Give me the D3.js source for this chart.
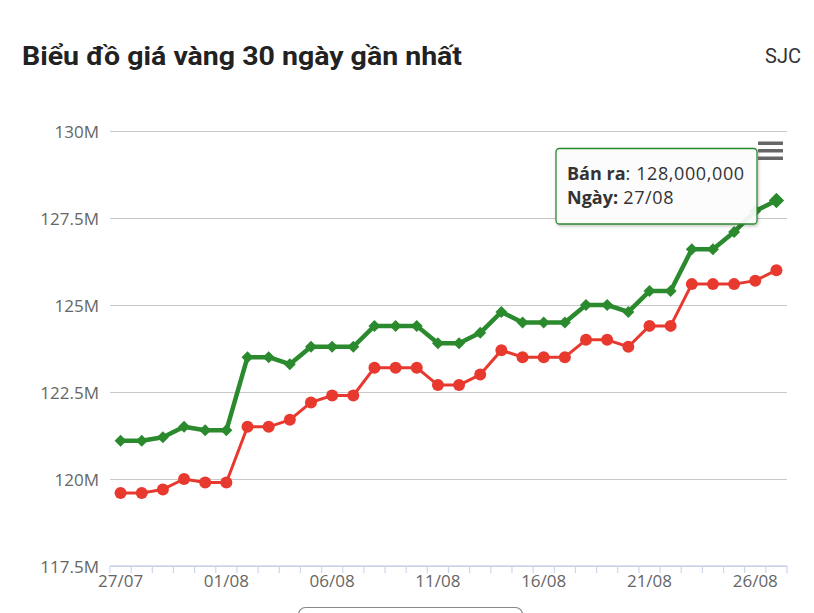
<!DOCTYPE html>
<html>
<head>
<meta charset="utf-8">
<script src="https://cdn.jsdelivr.net/npm/d3@7"></script>
<style>
  html, body { margin: 0; padding: 0; background: #fff; }
  svg { display: block; }
</style>
</head>
<body>
<div id="chart"></div>
<script>
// ---- Data ----
const dates = ["27/07","28/07","29/07","30/07","31/07","01/08","02/08","03/08","04/08","05/08",
  "06/08","07/08","08/08","09/08","10/08","11/08","12/08","13/08","14/08","15/08",
  "16/08","17/08","18/08","19/08","20/08","21/08","22/08","23/08","24/08","25/08","26/08","27/08"];
// Bán ra (sell), million VND
const banRa = [121.1,121.1,121.2,121.5,121.4,121.4,123.5,123.5,123.3,123.8,
  123.8,123.8,124.4,124.4,124.4,123.9,123.9,124.2,124.8,124.5,
  124.5,124.5,125.0,125.0,124.8,125.4,125.4,126.6,126.6,127.1,127.7,128.0];
// Mua vào (buy), million VND
const muaVao = [119.6,119.6,119.7,120.0,119.9,119.9,121.5,121.5,121.7,122.2,
  122.4,122.4,123.2,123.2,123.2,122.7,122.7,123.0,123.7,123.5,
  123.5,123.5,124.0,124.0,123.8,124.4,124.4,125.6,125.6,125.6,125.7,126.0];
const yTicks = [117.5, 120, 122.5, 125, 127.5, 130];
const xLabelDates = ["27/07","01/08","06/08","11/08","16/08","21/08","26/08"];
const titleText = "Biểu đồ giá vàng 30 ngày gần nhất";
const brandText = "SJC";
const tipIndex = 31;

// ---- Setup ----
const W = 814, H = 613;
const GREEN = "#2b8a2e", RED = "#e8392f";
const svg = d3.select("#chart").append("svg").attr("width", W).attr("height", H);

const defs = svg.append("defs");
const f = defs.append("filter").attr("id","shadow").attr("x","-10%").attr("y","-10%").attr("width","130%").attr("height","140%");
f.append("feDropShadow").attr("dx",1).attr("dy",1.5).attr("stdDeviation",1.5).attr("flood-color","#000").attr("flood-opacity",0.25);

// Title
svg.append("text").attr("x", 22).attr("y", 65)
  .attr("font-family", "Roboto, sans-serif").attr("font-weight", 700)
  .attr("font-size", 26).attr("fill", "#222")
  .attr("textLength", 440).attr("lengthAdjust", "spacingAndGlyphs")
  .text(titleText);
svg.append("text").attr("x", 801).attr("y", 63.3).attr("text-anchor", "end")
  .attr("font-family", "Roboto, sans-serif").attr("font-size", 20).attr("fill", "#333")
  .text(brandText);

// Scales
const x = d3.scaleBand().domain(dates).range([110, 787]).padding(0);
const y = d3.scaleLinear().domain([117.5, 130]).range([566, 131]);
const cx = d => x(d) + x.bandwidth() / 2;

// Y gridlines + labels
const yAxis = d3.axisLeft(y).tickValues(yTicks).tickSize(-(787 - 110)).tickPadding(11)
  .tickFormat(v => d3.format("")(v) + "M");
const gy = svg.append("g").attr("transform", "translate(110,0)").call(yAxis);
gy.select(".domain").remove();
gy.selectAll(".tick line").attr("stroke", "#c8c8c8").attr("stroke-width", 1.2);
gy.selectAll(".tick text").attr("font-family", "'Open Sans', sans-serif").attr("font-size", 17)
  .attr("fill", "#666").attr("dy", "0.36em");

// X axis
const xAxis = d3.axisBottom(x).tickSize(0).tickPadding(0)
  .tickValues(xLabelDates);
const gx = svg.append("g").attr("transform", "translate(0,566)").call(xAxis);
gx.select(".domain").attr("stroke", "#ccd6eb").attr("stroke-width", 1.5)
  .attr("d", "M110,0H787");
gx.selectAll(".tick text").attr("font-family", "'Open Sans', sans-serif").attr("font-size", 17)
  .attr("fill", "#666").attr("dy", null).attr("y", 21);
// category boundary tick marks
svg.append("g").selectAll("line").data(dates.concat(["__end"])).join("line")
  .attr("x1", (d, i) => i < dates.length ? x(d) : x.range()[1])
  .attr("x2", (d, i) => i < dates.length ? x(d) : x.range()[1])
  .attr("y1", 566).attr("y2", 573)
  .attr("stroke", "#ccd6eb").attr("stroke-width", 1.2);

// Lines
const lineGen = arr => d3.line().x((d, i) => cx(dates[i])).y(d => y(d))(arr);

svg.append("path").attr("d", lineGen(muaVao)).attr("fill", "none")
  .attr("stroke", RED).attr("stroke-width", 3).attr("stroke-linejoin", "round");
svg.append("g").selectAll("circle").data(muaVao).join("circle")
  .attr("cx", (d, i) => cx(dates[i])).attr("cy", d => y(d)).attr("r", 6)
  .attr("fill", RED);

svg.append("path").attr("d", lineGen(banRa)).attr("fill", "none")
  .attr("stroke", GREEN).attr("stroke-width", 4.5).attr("stroke-linejoin", "round");
const diamond = (s) => `M0,${-s}L${s},0L0,${s}L${-s},0Z`;
svg.append("g").selectAll("path").data(banRa).join("path")
  .attr("transform", (d, i) => `translate(${cx(dates[i])},${y(d)})`)
  .attr("d", (d, i) => diamond(i === tipIndex ? 7.5 : 6))
  .attr("fill", GREEN);

// Tooltip
const tip = svg.append("g");
tip.append("rect").attr("x", 556).attr("y", 148.5).attr("width", 201).attr("height", 75.5)
  .attr("rx", 3.5).attr("fill", "rgba(255,255,255,0.9)").attr("stroke", GREEN).attr("stroke-width", 1.3)
  .attr("filter", "url(#shadow)");
const t1 = tip.append("text").attr("x", 567).attr("y", 180)
  .attr("font-family", "'Open Sans', sans-serif").attr("font-size", 18).attr("fill", "#333");
t1.append("tspan").attr("font-weight", 700).text("Bán ra");
t1.append("tspan").attr("letter-spacing", 0.6).text(": " + d3.format(",")(Math.round(banRa[tipIndex] * 1e6)));
const t2 = tip.append("text").attr("x", 567).attr("y", 203.5)
  .attr("font-family", "'Open Sans', sans-serif").attr("font-size", 18).attr("fill", "#333");
t2.append("tspan").attr("font-weight", 700).text("Ngày:");
t2.append("tspan").attr("letter-spacing", 0.6).text(" " + dates[tipIndex]);

// hovered point on top of tooltip edge
svg.append("path").attr("transform", `translate(${cx(dates[tipIndex])},${y(banRa[tipIndex])})`)
  .attr("d", diamond(7.5)).attr("fill", GREEN);

// Hamburger menu
svg.append("g").selectAll("rect").data([0, 1, 2]).join("rect")
  .attr("x", 758).attr("y", d => 141.5 + d * 7.5).attr("width", 25).attr("height", 3.5)
  .attr("rx", 0.5).attr("fill", "#666");

// Partially visible button at bottom
svg.append("rect").attr("x", 298.5).attr("y", 607.5).attr("width", 224).attr("height", 30)
  .attr("rx", 7).attr("fill", "#fff").attr("stroke", "#888").attr("stroke-width", 1.2);
</script>
</body>
</html>
